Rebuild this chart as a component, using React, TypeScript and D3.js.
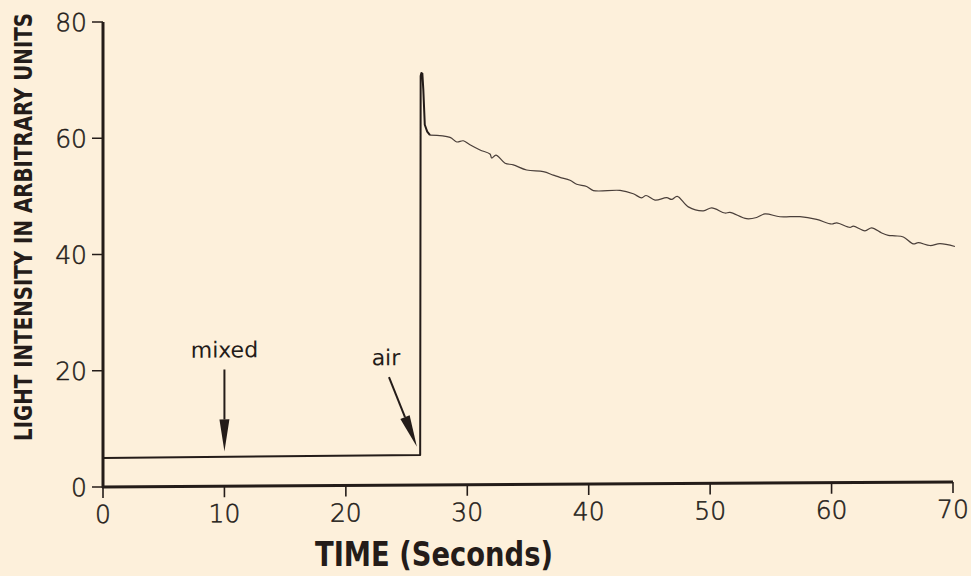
import React from 'react';
import * as d3 from 'd3';

// x axis ticks (seconds) and y axis ticks (arbitrary units)
const xTicks = [0, 10, 20, 30, 40, 50, 60, 70];
const yTicks = [0, 20, 40, 60, 80];

// baseline, then the flash when air is let in
const riseTime = [0, 26.12, 26.16, 26.22, 26.3, 26.38, 26.5, 26.7, 26.93];
const riseValue = [5.0, 5.2, 70.4, 70.9, 70.8, 68, 62, 60.8, 60.2];

// slow decay of the light afterwards
const decayTime = [
  26.93, 28.58, 29.13, 29.67, 30.22, 31.05, 31.87, 32.01, 32.36, 33.11, 33.79, 34.89,
  36.26, 37.08, 37.63, 38.46, 39.01, 39.83, 40.38, 42.58, 43.67, 44.36, 44.72, 45.46,
  46.42, 46.83, 47.29, 48.2, 49.44, 50.13, 51.22, 51.63, 53.01, 53.83, 54.52, 55.75,
  57.4, 58.77, 60.01, 60.42, 61.52, 61.79, 62.75, 63.3, 64.13, 64.67, 65.22, 65.91,
  66.73, 67.14, 68.11, 68.93, 70.16,
];
const decayValue = [
  60.2, 59.8, 59.0, 59.2, 58.5, 57.6, 56.9, 56.2, 56.7, 55.3, 55.0, 54.1,
  53.8, 53.2, 52.8, 52.3, 51.6, 51.2, 50.5, 50.5, 49.9, 49.2, 49.6, 48.8,
  49.2, 48.9, 49.4, 47.6, 46.9, 47.4, 46.5, 46.6, 45.5, 45.7, 46.3, 45.8,
  45.8, 45.3, 44.5, 44.7, 43.9, 44.1, 43.3, 43.8, 42.9, 42.5, 42.4, 42.2,
  41.0, 41.2, 40.7, 41.0, 40.5,
];

// annotation arrows: label, tail (time, value), head (time, value)
const notes = [
  { label: 'mixed', t0: 10, v0: 20.1, t1: 10, v1: 6.0 },
  { label: 'air', t0: 23.55, v0: 18.6, t1: 25.85, v1: 6.6 },
];

const W = 971;
const H = 576;
const ink = '#241c19';
const numFont = "'DejaVu Sans ExtraLight', 'DejaVu Sans', sans-serif";
const titleFont = "'Liberation Sans Narrow', 'DejaVu Sans Condensed', sans-serif";

export default function App() {
  const x = d3.scaleLinear().domain([0, 70]).range([103, 953]);
  const y = d3.scaleLinear().domain([0, 80]).range([487, 22]);

  const risePath = d3.line<[number, number]>()
    .x(d => x(d[0]))
    .y(d => y(d[1]))(riseTime.map((t, i) => [t, riseValue[i]])) || '';
  const decayPath = d3.line<[number, number]>()
    .x(d => x(d[0]))
    .y(d => y(d[1]))
    .curve(d3.curveCatmullRom)(decayTime.map((t, i) => [t, decayValue[i]])) || '';

  // the scan is slightly tilted
  const tilt = `translate(${x(0)},${y(0)}) skewY(-0.34) translate(${-x(0)},${-y(0)})`;

  return (
    <svg width={W} height={H} style={{ display: 'block', position: 'absolute', left: 0, top: 0, background: '#fdf0db' }}>
      <rect width={W} height={H} fill="#fdf0db" />
      <g transform={tilt}>
        {/* axes */}
        <line x1={x(0)} x2={x(0)} y1={y(0) + 1} y2={y(80)} stroke={ink} strokeWidth={3} />
        <line x1={x(0) - 1} x2={x(70)} y1={y(0)} y2={y(0)} stroke={ink} strokeWidth={3} />
        {yTicks.map(v => (
          <g key={'y' + v}>
            <line x1={x(0) - 11} x2={x(0)} y1={y(v)} y2={y(v)} stroke={ink} strokeWidth={1.6} />
            <text x={x(0) - 16} y={y(v)} dy="0.36em" textAnchor="end" fontFamily={numFont}
              fontWeight={200} fontSize={25} fill={ink} stroke={ink} strokeWidth={0.5}>{v}</text>
          </g>
        ))}
        {xTicks.map(t => (
          <g key={'x' + t}>
            <line x1={x(t)} x2={x(t)} y1={y(0)} y2={y(0) + 11} stroke={ink} strokeWidth={1.6} />
            <text x={x(t)} y={y(0) + 27} dy="0.36em" textAnchor="middle" fontFamily={numFont}
              fontWeight={200} fontSize={25} fill={ink} stroke={ink} strokeWidth={0.5}>{t}</text>
          </g>
        ))}

        {/* trace */}
        <path d={risePath} fill="none" stroke={ink} strokeWidth={2} strokeLinejoin="round" />
        <path d={decayPath} fill="none" stroke="#4a3f3a" strokeWidth={1.2} />

        {/* annotations */}
        {notes.map(n => {
          const x0 = x(n.t0), y0 = y(n.v0), x1 = x(n.t1), y1 = y(n.v1);
          const ang = Math.atan2(y1 - y0, x1 - x0);
          const len = 32, half = 5;
          const bx = x1 - Math.cos(ang) * len, by = y1 - Math.sin(ang) * len;
          const px = -Math.sin(ang) * half, py = Math.cos(ang) * half;
          const head = `M${x1},${y1}L${bx + px},${by + py}L${bx - px},${by - py}Z`;
          return (
            <g key={n.label}>
              <line x1={x0} y1={y0} x2={bx} y2={by} stroke={ink} strokeWidth={2} />
              <path d={head} fill={ink} />
              <text x={x0 - (n.label === 'air' ? 3 : 0)} y={y0 - 12} textAnchor="middle"
                fontFamily="'DejaVu Sans', sans-serif" fontSize={22} fill={ink}>{n.label}</text>
            </g>
          );
        })}
      </g>

      {/* axis titles */}
      <text x={434} y={566} textAnchor="middle" fontFamily={titleFont} fontWeight={700}
        fontSize={34} textLength={238} lengthAdjust="spacingAndGlyphs" fill={ink}>TIME (Seconds)</text>
      <text transform="translate(32,227) rotate(-90) scale(1,1.12)" textAnchor="middle" fontFamily={titleFont}
        fontWeight={700} fontSize={22} textLength={428} lengthAdjust="spacingAndGlyphs" fill={ink}>
        LIGHT INTENSITY IN ARBITRARY UNITS
      </text>
    </svg>
  );
}
